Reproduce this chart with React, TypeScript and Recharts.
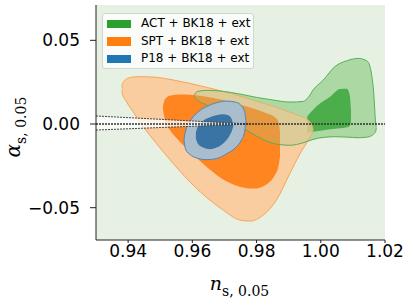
import React from "react";
import {
  ComposedChart,
  Area,
  Line,
  XAxis,
  YAxis,
  CartesianGrid,
  Legend,
  Label,
} from "recharts";

// ---- axis ticks ----
const X_TICKS = [0.94, 0.96, 0.98, 1.0, 1.02];
const Y_TICKS = [-0.05, 0, 0.05];
const X_DOMAIN = [0.93, 1.02];
const Y_DOMAIN = [-0.0693, 0.0711];

// ---- legend ----
const LEGEND_NAMES = ["ACT + BK18 + ext", "SPT + BK18 + ext", "P18 + BK18 + ext"];
const LEGEND_COLORS = ["#2ca02c", "#ff7f0e", "#1f77b4"];

// ---- SPT + BK18 + ext, 95% ----
const sptOuterX = [0.9381, 0.93815, 0.9385, 0.9391, 0.94, 0.9416, 0.9436, 0.9488, 0.954, 0.9592, 0.9644, 0.9696, 0.9748, 0.9779, 0.9821, 0.9862, 0.9904, 0.9935, 0.9956, 0.9966, 0.9974, 0.9976];
const sptOuterHi = [0.0212, 0.0236, 0.0252, 0.0263, 0.0274, 0.0281, 0.0283, 0.0279, 0.0263, 0.0243, 0.0219, 0.0195, 0.0167, 0.0149, 0.0124, 0.01, 0.007, 0.0048, 0.003, 0.0012, -0.0016, -0.0032];
const sptOuterLo = [0.0204, 0.0182, 0.0164, 0.0145, 0.0116, 0.0072, 0.0014, -0.0116, -0.0235, -0.0345, -0.0438, -0.0514, -0.0574, -0.058, -0.0544, -0.0454, -0.0295, -0.0179, -0.0112, -0.008, -0.0052, -0.0036];

// ---- SPT + BK18 + ext, 68% ----
const sptInnerX = [0.9508, 0.9511, 0.9517, 0.953, 0.9561, 0.9592, 0.9644, 0.9696, 0.9748, 0.979, 0.9831, 0.9857, 0.9868, 0.9873];
const sptInnerHi = [0.0096, 0.0128, 0.0153, 0.0169, 0.0177, 0.0175, 0.0163, 0.0143, 0.0116, 0.0092, 0.0064, 0.004, 0.0014, -0.0046];
const sptInnerLo = [0.0092, 0.006, 0.0004, -0.0036, -0.0106, -0.0165, -0.0255, -0.0331, -0.0375, -0.0386, -0.0361, -0.0305, -0.0255, -0.0195];

// ---- P18 + BK18 + ext, 95% ----
const p18OuterX = [0.9574, 0.9575, 0.958, 0.9592, 0.9613, 0.9644, 0.9675, 0.9706, 0.9738, 0.9753, 0.9763, 0.9766, 0.9767];
const p18OuterHi = [-0.0096, -0.008, -0.0036, 0.0014, 0.0064, 0.0104, 0.0127, 0.0137, 0.0129, 0.0108, 0.0074, 0.0034, 0.002];
const p18OuterLo = [-0.0096, -0.0112, -0.0155, -0.0181, -0.0203, -0.0213, -0.0207, -0.0179, -0.0135, -0.0096, -0.0046, 0.0004, 0.0018];

// ---- P18 + BK18 + ext, 68% ----
const p18InnerX = [0.9611, 0.9618, 0.9634, 0.9655, 0.9675, 0.9696, 0.9712, 0.9722, 0.9727];
const p18InnerHi = [-0.005, -0.0012, 0.002, 0.004, 0.0052, 0.0058, 0.0052, 0.0032, 0.0];
const p18InnerLo = [-0.0086, -0.012, -0.0141, -0.0151, -0.0141, -0.0116, -0.0082, -0.0046, -0.002];

// ---- ACT + BK18 + ext, 95% ----
const actOuterX = [0.9606, 0.9608, 0.9618, 0.9644, 0.9696, 0.9748, 0.98, 0.9852, 0.9904, 0.9945, 0.9961, 0.9976, 1.0008, 1.0044, 1.0081, 1.0117, 1.0145, 1.0158, 1.0165, 1.0171, 1.0173];
const actOuterHi = [0.0171, 0.0179, 0.0195, 0.0201, 0.0195, 0.0179, 0.0159, 0.0143, 0.0131, 0.0135, 0.0159, 0.0203, 0.0263, 0.0343, 0.0378, 0.0392, 0.0375, 0.0299, 0.0183, 0.0004, -0.0016];
const actOuterLo = [0.0167, 0.0159, 0.0139, 0.0114, 0.0054, -0.0012, -0.0072, -0.0116, -0.0127, -0.0112, -0.0102, -0.0092, -0.008, -0.0076, -0.0078, -0.0082, -0.0078, -0.007, -0.006, -0.0044, -0.0022];

// ---- ACT + BK18 + ext, 68% ----
const actInnerX = [0.9958, 0.9966, 0.9988, 1.0029, 1.006, 1.0081, 1.009, 1.0094];
const actInnerHi = [0.0046, 0.0064, 0.0108, 0.0163, 0.0209, 0.0211, 0.0173, 0.0084];
const actInnerLo = [-0.0052, -0.0050, -0.0044, -0.0032, -0.0026, -0.002, -0.001, 0.0014];

// ---- reference lines ----
const wedgeX = [0.93, 0.978];
const wedgeHi = [0.0048, 0.0];
const wedgeLo = [-0.0036, 0.0];
const zeroX = [0.93, 1.02];
const zeroY = [0, 0];

const band = (xs: number[], lo: number[], hi: number[]) =>
  xs.map((x, i) => ({ x, r: [lo[i], hi[i]] }));
const line = (xs: number[], ys: number[]) => xs.map((x, i) => ({ x, y: ys[i] }));

const sptOuter = band(sptOuterX, sptOuterLo, sptOuterHi);
const sptInner = band(sptInnerX, sptInnerLo, sptInnerHi);
const p18Outer = band(p18OuterX, p18OuterLo, p18OuterHi);
const p18Inner = band(p18InnerX, p18InnerLo, p18InnerHi);
const actOuter = band(actOuterX, actOuterLo, actOuterHi);
const actInner = band(actInnerX, actInnerLo, actInnerHi);
const wedge = band(wedgeX, wedgeLo, wedgeHi);
const wedgeUpper = line(wedgeX, wedgeHi);
const wedgeLower = line(wedgeX, wedgeLo);
const zeroLine = line(zeroX, zeroY);

const TICK_FONT = { fontFamily: "DejaVu Sans", fontSize: 17, fill: "#000" };

const fmtY = (v: number) => (v < 0 ? "\u2212" + Math.abs(v).toFixed(2) : v.toFixed(2));

const XLabel = (props: any) => {
  const vb = props.viewBox || { x: 96, y: 240, width: 289 };
  const cx = vb.x + vb.width / 2 - 1;
  return (
    <text x={cx} y={vb.y + 50} textAnchor="middle" fontFamily="DejaVu Serif" fill="#000">
      <tspan fontSize={19} fontStyle="italic">n</tspan>
      <tspan fontSize={14} dy={6}>s, 0.05</tspan>
    </text>
  );
};

const YLabel = () => {
  const cx = 20;
  const cy = 127;
  return (
    <text
      x={cx}
      y={cy}
      textAnchor="middle"
      fontFamily="DejaVu Serif"
      fill="#000"
      transform={`rotate(-90, ${cx}, ${cy})`}
    >
      <tspan fontSize={20} fontStyle="italic">α</tspan>
      <tspan fontSize={14} dy={6}>s, 0.05</tspan>
    </text>
  );
};

const LegendBox = () => (
  <div
    style={{
      position: "relative",
      width: 152,
      height: 56,
      boxSizing: "border-box",
      background: "rgba(255,255,255,0.8)",
      border: "1px solid #d4d4d4",
      borderRadius: 3,
      fontFamily: "DejaVu Sans",
      fontSize: 12,
      color: "#000",
    }}
  >
    {LEGEND_NAMES.map((name, i) => (
      <div key={name} style={{ position: "absolute", left: 0, top: 1 + i * 17.6, height: 17, width: 150 }}>
        <div
          style={{
            position: "absolute",
            left: 4,
            top: 4.5,
            width: 24,
            height: 8.5,
            background: LEGEND_COLORS[i],
          }}
        />
        <div style={{ position: "absolute", left: 38, top: 1, lineHeight: "14px", whiteSpace: "nowrap" }}>
          {name}
        </div>
      </div>
    ))}
  </div>
);

export default function App() {
  return (
    <div style={{ position: "absolute", left: 0, top: 0 }}>
      <ComposedChart width={413} height={306} margin={{ top: 5, right: 28, bottom: 0, left: 0 }}>
        <CartesianGrid fill="#e6f0e3" horizontal={false} vertical={false} stroke="none" />
        <XAxis
          dataKey="x"
          type="number"
          domain={X_DOMAIN}
          ticks={X_TICKS}
          allowDataOverflow
          height={66}
          tickFormatter={(v: number) => v.toFixed(2)}
          tick={TICK_FONT}
          tickSize={3}
          tickMargin={2}
          stroke="#222"
          axisLine={{ stroke: "#222", strokeWidth: 1 }}
          tickLine={{ stroke: "#222" }}
        >
          <Label content={<XLabel />} />
        </XAxis>
        <XAxis
          xAxisId="top"
          orientation="top"
          type="number"
          domain={X_DOMAIN}
          height={0}
          tick={false}
          tickLine={false}
          axisLine={{ stroke: "#222", strokeWidth: 1 }}
        />
        <YAxis
          type="number"
          domain={Y_DOMAIN}
          ticks={Y_TICKS}
          allowDataOverflow
          width={96}
          tickFormatter={fmtY}
          tick={TICK_FONT}
          tickSize={6}
          tickMargin={10}
          axisLine={{ stroke: "#222", strokeWidth: 1 }}
          tickLine={{ stroke: "#222" }}
        >
          <Label content={<YLabel />} />
        </YAxis>
        <YAxis
          yAxisId="right"
          orientation="right"
          type="number"
          domain={Y_DOMAIN}
          width={0}
          tick={false}
          tickLine={false}
          axisLine={{ stroke: "#222", strokeWidth: 1 }}
        />

        {/* ACT fills */}
        <Area data={actOuter} dataKey="r" type="monotone" fill="#acd8a5" fillOpacity={1} stroke="none" isAnimationActive={false} dot={false} activeDot={false} />
        <Area data={actInner} dataKey="r" type="monotone" fill="#2ca02c" fillOpacity={1} stroke="none" isAnimationActive={false} dot={false} activeDot={false} />

        {/* SPT fills */}
        <Area data={sptOuter} dataKey="r" type="monotone" fill="#ffc48f" fillOpacity={0.8} stroke="#f8a456" strokeWidth={1} isAnimationActive={false} dot={false} activeDot={false} />
        <Area data={sptInner} dataKey="r" type="monotone" fill="#ff780a" fillOpacity={0.85} stroke="none" isAnimationActive={false} dot={false} activeDot={false} />

        {/* ACT overlay + outline */}
        <Area data={actOuter} dataKey="r" type="monotone" fill="#acd8a5" fillOpacity={0.25} stroke="#55b055" strokeWidth={1} isAnimationActive={false} dot={false} activeDot={false} />

        {/* P18 */}
        <Area data={p18Outer} dataKey="r" type="monotone" fill="#aabdcc" fillOpacity={1} stroke="#4d86b8" strokeWidth={1} isAnimationActive={false} dot={false} activeDot={false} />
        <Area data={p18Inner} dataKey="r" type="monotone" fill="#3a74a4" fillOpacity={1} stroke="none" isAnimationActive={false} dot={false} activeDot={false} />

        {/* reference lines */}
        <Line data={zeroLine} dataKey="y" type="linear" stroke="#333" strokeWidth={1.4} strokeDasharray="2 1" dot={false} activeDot={false} isAnimationActive={false} />
        <Area data={wedge} dataKey="r" type="linear" fill="#ffffff" fillOpacity={0.75} stroke="none" isAnimationActive={false} dot={false} activeDot={false} />
        <Line data={wedgeUpper} dataKey="y" type="linear" stroke="#333" strokeWidth={0.9} strokeDasharray="2 1" dot={false} activeDot={false} isAnimationActive={false} />
        <Line data={wedgeLower} dataKey="y" type="linear" stroke="#333" strokeWidth={0.9} strokeDasharray="2 1" dot={false} activeDot={false} isAnimationActive={false} />

        <Legend
          layout="horizontal"
          verticalAlign="middle"
          align="center"
          content={<LegendBox />}
          wrapperStyle={{ position: "absolute", left: 102, top: 13, width: 152, height: 56 }}
        />
      </ComposedChart>
    </div>
  );
}
